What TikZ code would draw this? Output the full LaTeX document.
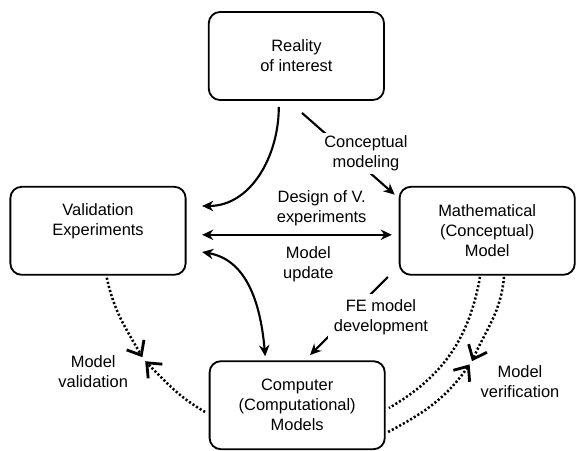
\documentclass[tikz,border=0pt]{standalone}
\usepackage{fontspec}
\setmainfont{Liberation Sans}
\usetikzlibrary{arrows.meta}

\begin{document}
\begin{tikzpicture}[
  font=\fontsize{11.7}{14.2}\selectfont,
  blk/.style={rounded corners=8pt, draw, line width=1.3pt, align=center,
              minimum width=4.38cm, minimum height=2.2cm},
  fl/.style={-{Stealth[length=2.8mm,width=2.6mm]}, line width=1.5pt},
  fl2/.style={{Stealth[length=2.8mm,width=2.6mm]}-{Stealth[length=2.8mm,width=2.6mm]}, line width=1.5pt},
  dt/.style={line width=1.8pt, dash pattern=on 1.5pt off 1.5pt},
  dta/.style={dt, -{Straight Barb[length=3mm,width=5mm,line width=2pt]}},
  lbl/.style={align=center, fill=white, inner sep=2pt}
]
\useasboundingbox (0,0) rectangle (14.4,11.25);

% ---- blocks
\node[blk] (real) at (7.41,9.85) {Reality\\of interest};
\node[blk, text depth=.54cm] (val) at (2.45,5.48) {Validation\\Experiments};
\node[blk] (math) at (12.18,5.48) {Mathematical\\(Conceptual)\\Model};
\node[blk] (comp) at (7.43,1.12) {Computer\\(Computational)\\Models};

% ---- tips of the dotted arrows
\coordinate (mval1) at (3.56,2.32);
\coordinate (mval2) at (3.63,2.22);
\coordinate (mver1) at (11.80,2.22);
\coordinate (mver2) at (11.74,2.14);

% ---- solid connectors
\draw[fl] ([xshift=-.44cm,yshift=-.15cm]real.south) to[out=-90,in=0]
  ([xshift=.39cm,yshift=.62cm]val.east);
\draw[fl] ([xshift=.14cm,yshift=-.3cm]real.south) --
  ([xshift=-.1cm,yshift=-.22cm]math.north west)
  node[lbl, pos=.69, yshift=4mm] {Conceptual\\modeling};
\draw[fl2] ([xshift=.39cm,yshift=-.1cm]val.east) -- ([xshift=-.17cm,yshift=-.1cm]math.west)
  node[lbl, pos=.63, yshift=.67cm] {Design of V.\\experiments}
  node[lbl, pos=.56, yshift=-.74cm] {Model\\update};
\draw[fl2] ([xshift=.39cm,yshift=-.53cm]val.east) to[out=-10,in=95]
  ([xshift=-.8cm,yshift=.1cm]comp.north);
\draw[fl] ([xshift=-.27cm,yshift=-.03cm]math.south west) --
  ([xshift=.32cm,yshift=.13cm]comp.north)
  node[lbl, pos=.51, xshift=.82cm, inner sep=4pt] {FE model\\development};

% ---- model validation
\draw[dta] ([xshift=.22cm,yshift=-.05cm]val.south) to[out=-78,in=120] (mval1);
\draw[dta] ([xshift=-.09cm,yshift=-.17cm]comp.west) to[out=150,in=-45] (mval2);
\node[lbl] (mvlab) at (2.33,1.96) {Model\\validation};

% ---- model verification
\draw[dt] ([xshift=-.18cm,yshift=-.03cm]math.south) to[out=-100,in=30]
  ([xshift=.08cm,yshift=-.07cm]comp.east);
\draw[dta] ([xshift=.42cm,yshift=-.03cm]math.south) to[out=-95,in=66] (mver1);
\draw[dta] ([xshift=.06cm,yshift=-.67cm]comp.east) to[out=28,in=235] (mver2);
\node[lbl] (mflab) at (13.0,1.7) {Model\\verification};
\end{tikzpicture}
\end{document}
